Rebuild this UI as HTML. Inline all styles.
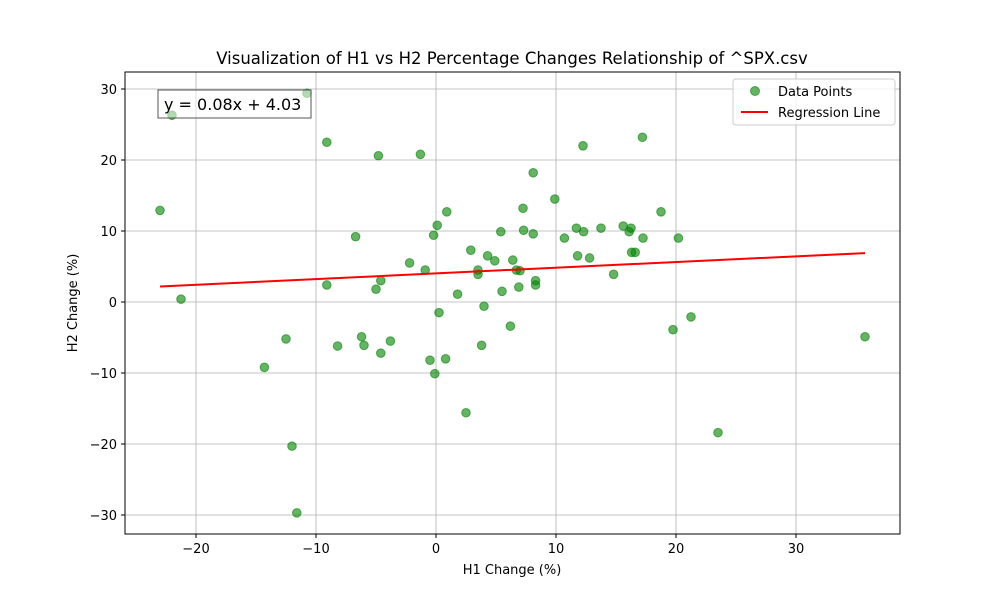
<!DOCTYPE html>
<html><head><meta charset="utf-8"><style>
body{margin:0;background:#fff;}
svg text{font-family:"DejaVu Sans","Liberation Sans",sans-serif;fill:#000;}
</style></head><body>
<svg id="chart" width="1000" height="600" xmlns="http://www.w3.org/2000/svg">
<rect width="1000" height="600" fill="#fff"/>
<g id="grid"></g>
<g id="pts"></g>
<g id="reg"></g>
<rect x="125" y="72" width="775" height="462" fill="none" stroke="#000" stroke-width="1"/>
<g id="ticks"></g>
<text x="512" y="64" font-size="16.5" text-anchor="middle">Visualization of H1 vs H2 Percentage Changes Relationship of ^SPX.csv</text>
<text x="512" y="574" font-size="13" text-anchor="middle">H1 Change (%)</text>
<text x="77" y="303" font-size="13" text-anchor="middle" transform="rotate(-90 77 303)">H2 Change (%)</text>
<g>
<rect x="158" y="90" width="153" height="28" fill="#fff" fill-opacity="0.5" stroke="#555" stroke-width="1"/>
<text x="164" y="110" font-size="16">y = 0.08x + 4.03</text>
</g>
<g>
<rect x="733" y="79" width="162" height="46" rx="3" fill="#fff" fill-opacity="0.8" stroke="#ccc"/>
<circle cx="755" cy="91" r="4.5" fill="green" fill-opacity="0.6" stroke="green" stroke-opacity="0.6"/>
<text x="778" y="96" font-size="13">Data Points</text>
<line x1="741" y1="112" x2="768" y2="112" stroke="red" stroke-width="2"/>
<text x="778" y="117" font-size="13">Regression Line</text>
</g>
</svg>
<script>
const xs=[-23,-22,-21.25,-14.3,-12.5,-12,-11.6,-10.75,-9.1,-9.1,-8.2,-6.7,-6.2,-6,-5,-4.8,-4.6,-4.6,-3.8,-2.2,-1.3,-0.9,-0.5,-0.2,-0.1,0.1,0.25,0.8,0.9,1.8,2.5,2.9,3.5,3.5,3.8,4,4.3,4.9,5.4,5.5,6.2,6.4,6.7,6.9,7,7.25,7.3,8.1,8.1,8.3,8.3,9.9,10.7,11.7,11.8,12.25,12.3,12.8,13.75,14.8,15.6,16.1,16.25,16.3,16.6,17.2,17.25,18.75,19.75,20.2,21.25,23.5,35.75];
const ys=[12.9,26.3,0.4,-9.2,-5.2,-20.3,-29.7,29.4,22.5,2.4,-6.2,9.2,-4.9,-6.1,1.8,20.6,3.0,-7.2,-5.5,5.5,20.8,4.5,-8.2,9.4,-10.1,10.8,-1.5,-8.0,12.7,1.1,-15.6,7.3,4.5,3.9,-6.1,-0.6,6.5,5.8,9.9,1.5,-3.4,5.9,4.5,2.1,4.4,13.2,10.1,18.2,9.6,3.0,2.4,14.5,9.0,10.4,6.5,22.0,9.9,6.2,10.4,3.9,10.7,9.9,10.4,7.0,7.0,23.2,9.0,12.7,-3.9,9.0,-2.1,-18.4,-4.9];
const slope=[0.08];
const intercept=[4.03];
const xTicks=[-20,-10,0,10,20,30];
const yTicks=[-30,-20,-10,0,10,20,30];
const NS="http://www.w3.org/2000/svg";
const X=v=>436+v*12, Y=v=>302-v*7.1;
function mk(t,a,p){const e=document.createElementNS(NS,t);for(const k in a)e.setAttribute(k,a[k]);p.appendChild(e);return e;}
const grid=document.getElementById('grid'),ticks=document.getElementById('ticks');
xTicks.forEach(v=>{
 const g=mk('line',{x1:X(v),x2:X(v),y1:72,y2:534,stroke:'#b0b0b0','stroke-width':0.8},grid);
 
 
 mk('line',{x1:X(v),x2:X(v),y1:534,y2:538,stroke:'#000'},ticks);
 const t=mk('text',{x:X(v),y:553,'font-size':13,'text-anchor':'middle'},ticks);
 t.textContent=v<0?'\u2212'+(-v):v;
 
 
});
yTicks.forEach(v=>{
 const g=mk('line',{x1:125,x2:900,y1:Y(v),y2:Y(v),stroke:'#b0b0b0','stroke-width':0.8},grid);
 
 
 mk('line',{x1:121,x2:125,y1:Y(v),y2:Y(v),stroke:'#000'},ticks);
 const t=mk('text',{x:117,y:Y(v)+5,'font-size':13,'text-anchor':'end'},ticks);
 t.textContent=v<0?'\u2212'+(-v):v;
 
 
});
const pts=document.getElementById('pts');
xs.forEach((x,i)=>{
 const c=mk('circle',{cx:X(x),cy:Y(ys[i]),r:4.3,fill:'green','fill-opacity':0.6,stroke:'green','stroke-opacity':0.6},pts);
 
 
});
const mn=Math.min(...xs),mx=Math.max(...xs);
const l=mk('line',{x1:X(mn),y1:Y(slope[0]*mn+intercept[0]),x2:X(mx),y2:Y(slope[0]*mx+intercept[0]),stroke:'red','stroke-width':2},document.getElementById('reg'));


</script>
</body></html>
